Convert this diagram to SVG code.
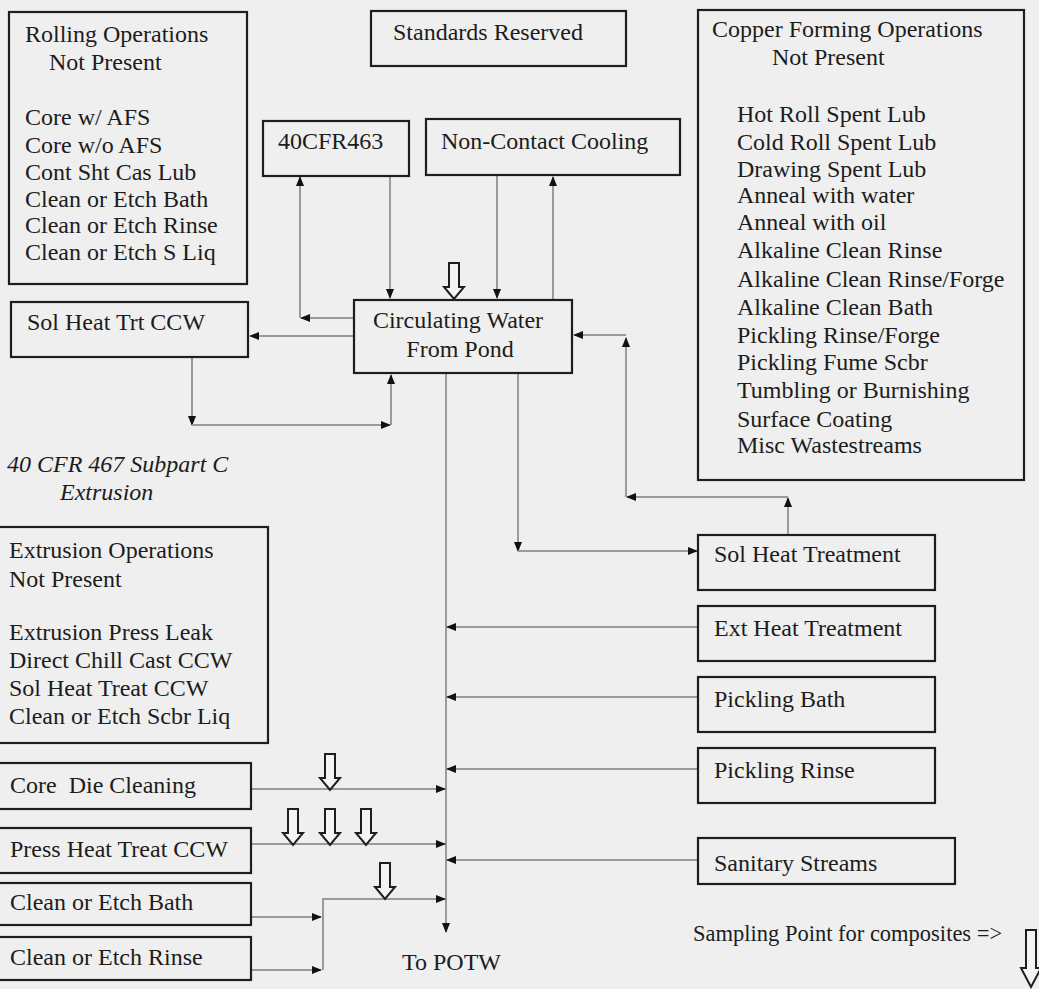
<svg xmlns="http://www.w3.org/2000/svg" width="1039" height="989" viewBox="0 0 1039 989" font-family="'Liberation Serif', serif">
<style>
text{font-family:'Liberation Serif','Times New Roman',serif;font-size:24px;fill:#1c1c1c}
.it{font-style:italic}
.box{fill:none;stroke:#1e1e1e;stroke-width:2.2}
.ln{fill:none;stroke:#9a9a9a;stroke-width:2}
.ah{marker-end:url(#ah)}
.samp{fill:#f4f4f4;stroke:#1e1e1e;stroke-width:2}
</style>
<defs>
<marker id="ah" markerUnits="userSpaceOnUse" markerWidth="10" markerHeight="10" viewBox="0 0 10 10" refX="9" refY="5" orient="auto">
<path d="M0,1 L10,5 L0,9 Z" fill="#111"/>
</marker>
<path id="sp" d="M-5,-36 H5 V-12 H10 L0,0 L-10,-12 H-5 Z"/>
</defs>
<rect x="0" y="0" width="1039" height="989" fill="#efefef"/>

<g id="connectors">
<path class="ln ah" d="M390,176 V298"/>
<path class="ln ah" d="M354,318 H301"/>
<path class="ln ah" d="M300,318 V177"/>
<path class="ln ah" d="M497,175 V298"/>
<path class="ln ah" d="M553,300 V177"/>
<path class="ln ah" d="M354,336 H250"/>
<path class="ln ah" d="M192,357 V425"/>
<path class="ln ah" d="M192,425 H390"/>
<path class="ln ah" d="M391,425 V375"/>
<path class="ln ah" d="M518,373 V551"/>
<path class="ln ah" d="M518,551 H697"/>
<path class="ln ah" d="M788,535 V498"/>
<path class="ln ah" d="M788,497 H627"/>
<path class="ln ah" d="M626,497 V338"/>
<path class="ln ah" d="M626,335 H574"/>
<path class="ln ah" d="M446,373 V932"/>
<path class="ln ah" d="M698,627 H447"/>
<path class="ln ah" d="M698,697 H447"/>
<path class="ln ah" d="M698,769 H447"/>
<path class="ln ah" d="M698,860 H447"/>
<path class="ln ah" d="M251,789 H445"/>
<path class="ln ah" d="M251,844 H445"/>
<path class="ln ah" d="M251,917 H321"/>
<path class="ln ah" d="M251,970 H321"/>
<path class="ln ah" d="M323,970 V899 H445"/>
</g>

<g id="sampling-points">
<use href="#sp" class="samp" x="454" y="299"/>
<use href="#sp" class="samp" x="330" y="790"/>
<use href="#sp" class="samp" x="293" y="845"/>
<use href="#sp" class="samp" x="330" y="845"/>
<use href="#sp" class="samp" x="366" y="845"/>
<use href="#sp" class="samp" x="385" y="899"/>
</g>

<g id="rolling">
<rect class="box" x="9" y="12" width="238" height="272"/>
<text x="25" y="42">Rolling Operations</text>
<text x="49" y="70">Not Present</text>
<text x="25" y="125">Core w/ AFS</text>
<text x="25" y="153">Core w/o AFS</text>
<text x="25" y="180">Cont Sht Cas Lub</text>
<text x="25" y="207">Clean or Etch Bath</text>
<text x="25" y="233">Clean or Etch Rinse</text>
<text x="25" y="260">Clean or Etch S Liq</text>
</g>

<g id="standards">
<rect class="box" x="371" y="11" width="255" height="55"/>
<text x="393" y="40">Standards Reserved</text>
</g>

<g id="cfr463">
<rect class="box" x="263" y="121" width="146" height="55"/>
<text x="278" y="149">40CFR463</text>
</g>

<g id="noncontact">
<rect class="box" x="426" y="119" width="254" height="56"/>
<text x="441" y="149">Non-Contact Cooling</text>
</g>

<g id="circulating">
<rect class="box" x="354" y="300" width="218" height="73"/>
<text x="458" y="328" text-anchor="middle">Circulating Water</text>
<text x="460" y="357" text-anchor="middle">From Pond</text>
</g>

<g id="copper">
<rect class="box" x="698" y="10" width="326" height="470"/>
<text x="712" y="37">Copper Forming Operations</text>
<text x="772" y="65">Not Present</text>
<text x="737" y="122">Hot Roll Spent Lub</text>
<text x="737" y="150">Cold Roll Spent Lub</text>
<text x="737" y="177">Drawing Spent Lub</text>
<text x="737" y="203">Anneal with water</text>
<text x="737" y="230">Anneal with oil</text>
<text x="737" y="258">Alkaline Clean Rinse</text>
<text x="737" y="287">Alkaline Clean Rinse/Forge</text>
<text x="737" y="315">Alkaline Clean Bath</text>
<text x="737" y="343">Pickling Rinse/Forge</text>
<text x="737" y="370">Pickling Fume Scbr</text>
<text x="737" y="398">Tumbling or Burnishing</text>
<text x="737" y="427">Surface Coating</text>
<text x="737" y="453">Misc Wastestreams</text>
</g>

<g id="solheattrtccw">
<rect class="box" x="11" y="302" width="237" height="55"/>
<text x="27" y="330">Sol Heat Trt CCW</text>
</g>

<g id="subpart-label">
<text class="it" x="7" y="472">40 CFR 467 Subpart C</text>
<text class="it" x="60" y="500">Extrusion</text>
</g>

<g id="extrusion">
<rect class="box" x="-3" y="527" width="271" height="216"/>
<text x="9" y="558">Extrusion Operations</text>
<text x="9" y="587">Not Present</text>
<text x="9" y="640">Extrusion Press Leak</text>
<text x="9" y="668">Direct Chill Cast CCW</text>
<text x="9" y="696">Sol Heat Treat CCW</text>
<text x="9" y="724">Clean or Etch Scbr Liq</text>
</g>

<g id="coredie">
<rect class="box" x="-3" y="763" width="254" height="46"/>
<text x="10" y="793" xml:space="preserve">Core  Die Cleaning</text>
</g>
<g id="pressheat">
<rect class="box" x="-3" y="828" width="254" height="45"/>
<text x="10" y="857">Press Heat Treat CCW</text>
</g>
<g id="etchbath">
<rect class="box" x="-3" y="883" width="254" height="42"/>
<text x="10" y="910">Clean or Etch Bath</text>
</g>
<g id="etchrinse">
<rect class="box" x="-3" y="937" width="254" height="43"/>
<text x="10" y="965">Clean or Etch Rinse</text>
</g>

<g id="solheattreatment">
<rect class="box" x="698" y="535" width="237" height="55"/>
<text x="714" y="562">Sol Heat Treatment</text>
</g>
<g id="extheat">
<rect class="box" x="698" y="606" width="237" height="55"/>
<text x="714" y="636">Ext Heat Treatment</text>
</g>
<g id="picklingbath">
<rect class="box" x="698" y="677" width="237" height="55"/>
<text x="714" y="707">Pickling Bath</text>
</g>
<g id="picklingrinse">
<rect class="box" x="698" y="748" width="237" height="55"/>
<text x="714" y="778">Pickling Rinse</text>
</g>
<g id="sanitary">
<rect class="box" x="698" y="838" width="257" height="46"/>
<text x="714" y="871">Sanitary Streams</text>
</g>

<g id="potw">
<text x="402" y="970">To POTW</text>
</g>

<g id="legend">
<text x="693" y="941" style="font-size:22.5px">Sampling Point for composites =&gt;</text>
<path class="samp" d="M1026,930 H1036 V968 H1041 L1031,987 L1021,968 H1026 Z"/>
</g>
</svg>
